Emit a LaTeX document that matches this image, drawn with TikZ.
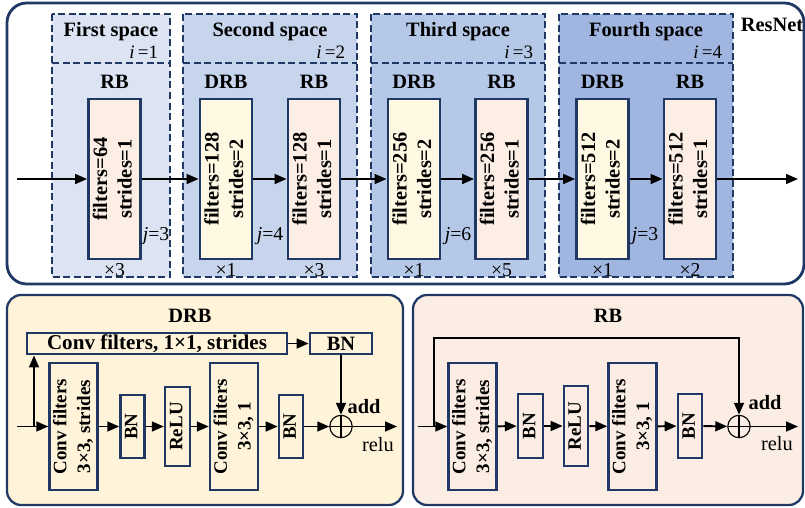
\documentclass[tikz,border=0pt]{standalone}
\usepackage{fontspec}
\setmainfont{Liberation Serif}
\usetikzlibrary{arrows.meta, positioning, calc}
\definecolor{navy}{HTML}{1F3864}
\definecolor{spone}{HTML}{DCE4F3}
\definecolor{sptwo}{HTML}{C6D5EC}
\definecolor{spthree}{HTML}{B5C8E8}
\definecolor{spfour}{HTML}{A0B6E1}
\definecolor{drbfill}{HTML}{FFF8E3}
\definecolor{rbfill}{HTML}{FCEEE5}
\definecolor{drbpanel}{HTML}{FFF3D9}
\definecolor{rbpanel}{HTML}{FBEDE3}
\newcommand{\vtext}[1]{\rotatebox{90}{\begin{tabular}{@{}c@{}}#1\end{tabular}}}

\begin{document}
\begin{tikzpicture}[x=0.025cm, y=-0.025cm,
  arr/.style={-{Triangle[length=8.5pt,width=7pt]}, line width=1.4pt},
  blk/.style={draw=navy, line width=2pt, inner sep=0pt, minimum width=1.3cm, minimum height=4cm,
    font=\fontsize{14.5}{17.5}\selectfont\bfseries},
  drbblk/.style={blk, fill=drbfill},
  rbblk/.style={blk, fill=rbfill},
  sblk/.style={draw=navy, line width=1.9pt, inner sep=0pt, font=\fontsize{13.5}{17}\selectfont\bfseries},
  spacebox/.style={draw=navy, line width=1.5pt, dash pattern=on 5pt off 2.5pt},
  panel/.style={draw=navy, line width=1.6pt, rounded corners=10pt},
  head/.style={font=\fontsize{14.5}{16}\selectfont\bfseries},
  idx/.style={font=\fontsize{13.5}{15}\selectfont, anchor=east},
  note/.style={font=\fontsize{14}{15}\selectfont},
  addop/.style={circle, draw=black, line width=0.8pt, minimum size=0.56cm, inner sep=0pt,
    path picture={\draw[line width=0.8pt] (path picture bounding box.north) -- (path picture bounding box.south)
      (path picture bounding box.west) -- (path picture bounding box.east);}}]
  \useasboundingbox (0,0) rectangle (805,508);

  % ResNet
  \draw[panel, line width=2pt, rounded corners=14pt] (7,3) rectangle (804,284);
  \node[head] (resnet) at (772,25) {ResNet};

  % First space
  \draw[spacebox, fill=spone] (52,14) rectangle (170,277);
  \draw[spacebox] (52,63) -- (170,63);
  \node[head] (h1) at (111,32) {First space};
  \node[idx] (i1) at (163,52) {\textit{i}\,=1};
  \node[head] (l1) at (114.5,82) {RB};
  \node[rbblk] (rb1) at (114.5,179) {\vtext{filters=64\\strides=1}};
  \node[note] (j1) at (156,236) {\textit{j}=3};
  \node[note] (x1) at (114.5,270) {×3};

  % Second space
  \draw[spacebox, fill=sptwo] (183,14) rectangle (357,277);
  \draw[spacebox] (183,63) -- (357,63);
  \node[head] (h2) at (270,32) {Second space};
  \node[idx] (i2) at (350,52) {\textit{i}\,=2};
  \node[head] (l2a) at (226,82) {DRB};
  \node[head] (l2b) at (314,82) {RB};
  \node[drbblk] (drb2) at (226,179) {\vtext{filters=128\\strides=2}};
  \node[rbblk] (rb2) at (314,179) {\vtext{filters=128\\strides=1}};
  \node[note] (j2) at (270,236) {\textit{j}=4};
  \node[note] (x2a) at (226,270) {×1};
  \node[note] (x2b) at (314,270) {×3};

  % Third space
  \draw[spacebox, fill=spthree] (371,14) rectangle (545,277);
  \draw[spacebox] (371,63) -- (545,63);
  \node[head] (h3) at (458,32) {Third space};
  \node[idx] (i3) at (538,52) {\textit{i}\,=3};
  \node[head] (l3a) at (414,82) {DRB};
  \node[head] (l3b) at (501.5,82) {RB};
  \node[drbblk] (drb3) at (414,179) {\vtext{filters=256\\strides=2}};
  \node[rbblk] (rb3) at (501.5,179) {\vtext{filters=256\\strides=1}};
  \node[note] (j3) at (458,236) {\textit{j}=6};
  \node[note] (x3a) at (414,270) {×1};
  \node[note] (x3b) at (501.5,270) {×5};

  % Fourth space
  \draw[spacebox, fill=spfour] (559,14) rectangle (733,277);
  \draw[spacebox] (559,63) -- (733,63);
  \node[head] (h4) at (646,32) {Fourth space};
  \node[idx] (i4) at (727,52) {\textit{i}\,=4};
  \node[head] (l4a) at (602.5,82) {DRB};
  \node[head] (l4b) at (690,82) {RB};
  \node[drbblk] (drb4) at (602.5,179) {\vtext{filters=512\\strides=2}};
  \node[rbblk] (rb4) at (690,179) {\vtext{filters=512\\strides=1}};
  \node[note] (j4) at (645,236) {\textit{j}=3};
  \node[note] (x4a) at (602.5,270) {×1};
  \node[note] (x4b) at (690,270) {×2};

  % main path
  \coordinate (in) at (17,179);
  \coordinate (out) at (798,179);
  \draw[arr] (in) -- (rb1);
  \draw[arr] (rb1) -- (drb2);
  \draw[arr] (drb2) -- (rb2);
  \draw[arr] (rb2) -- (drb3);
  \draw[arr] (drb3) -- (rb3);
  \draw[arr] (rb3) -- (drb4);
  \draw[arr] (drb4) -- (rb4);
  \draw[arr] (rb4) -- (out);

  % DRB
  \draw[panel, fill=drbpanel] (7,295) rectangle (403,505);
  \node[head] (drbt) at (190,316) {DRB};
  \node[sblk, minimum width=6.5cm, minimum height=0.53cm, font=\fontsize{15}{16}\selectfont\bfseries]
    (cv0) at (157,343.5) {Conv filters, 1×1, strides};
  \node[sblk, minimum width=1.55cm, minimum height=0.53cm, font=\fontsize{14.5}{16}\selectfont\bfseries]
    (bn0) at (341,343.5) {BN};
  \node[sblk, minimum width=1.08cm, minimum height=3.18cm] (cv1) at (73.5,426.5) {\vtext{Conv filters\\3×3, strides}};
  \node[sblk, minimum width=0.58cm, minimum height=1.58cm] (bn1) at (132.5,426.5) {\vtext{BN}};
  \node[sblk, minimum width=0.62cm, minimum height=1.98cm] (re1) at (177.5,426.5) {\vtext{ReLU}};
  \node[sblk, minimum width=1.1cm, minimum height=3.18cm] (cv2) at (234,426.5) {\vtext{Conv filters\\3×3, 1}};
  \node[sblk, minimum width=0.6cm, minimum height=1.58cm] (bn2) at (291,426.5) {\vtext{BN}};
  \node[addop] (add1) at (341,426.5) {};
  \node[head] (addl1) at (364,407) {add};
  \node[note, font=\fontsize{14.5}{16}\selectfont] (relu1) at (378,445) {relu};
  \coordinate (din) at (17,426.5);
  \coordinate (dbr) at (34,426.5);
  \coordinate (dout) at (397,426.5);
  \draw[arr] (din) -- (cv1);
  \draw[arr] (dbr) -- (dbr |- cv0.south);
  \draw[arr] (cv0) -- (bn0);
  \draw[arr] (bn0) -- (add1);
  \draw[arr] (cv1) -- (bn1);
  \draw[arr] (bn1) -- (re1);
  \draw[arr] (re1) -- (cv2);
  \draw[arr] (cv2) -- (bn2);
  \draw[arr] (bn2) -- (add1);
  \draw[arr] (add1) -- (dout);

  % RB
  \draw[panel, fill=rbpanel] (413,295) rectangle (803,505);
  \node[head] (rbt) at (608,316) {RB};
  \node[sblk, minimum width=1.08cm, minimum height=3.18cm] (cv3) at (472.5,426.5) {\vtext{Conv filters\\3×3, strides}};
  \node[sblk, minimum width=0.62cm, minimum height=1.6cm] (bn3) at (530.5,426) {\vtext{BN}};
  \node[sblk, minimum width=0.6cm, minimum height=2cm] (re2) at (576,426) {\vtext{ReLU}};
  \node[sblk, minimum width=1.08cm, minimum height=3.18cm] (cv4) at (632.5,426.5) {\vtext{Conv filters\\3×3, 1}};
  \node[sblk, minimum width=0.6cm, minimum height=1.6cm] (bn4) at (690,426) {\vtext{BN}};
  \node[addop] (add2) at (739,426.5) {};
  \node[head] (addl2) at (765,403) {add};
  \node[note, font=\fontsize{14.5}{16}\selectfont] (relu2) at (777,444) {relu};
  \coordinate (rin) at (418,426.5);
  \coordinate (rbr) at (434,426.5);
  \coordinate (rtop) at (434,338);
  \coordinate (rout) at (798,426.5);
  \draw[arr] (rin) -- (cv3);
  \draw[arr] (rbr) -- (rtop) -| (add2);
  \draw[arr] (cv3) -- (bn3);
  \draw[arr] (bn3) -- (re2);
  \draw[arr] (re2) -- (cv4);
  \draw[arr] (cv4) -- (bn4);
  \draw[arr] (bn4) -- (add2);
  \draw[arr] (add2) -- (rout);
\end{tikzpicture}
\end{document}
